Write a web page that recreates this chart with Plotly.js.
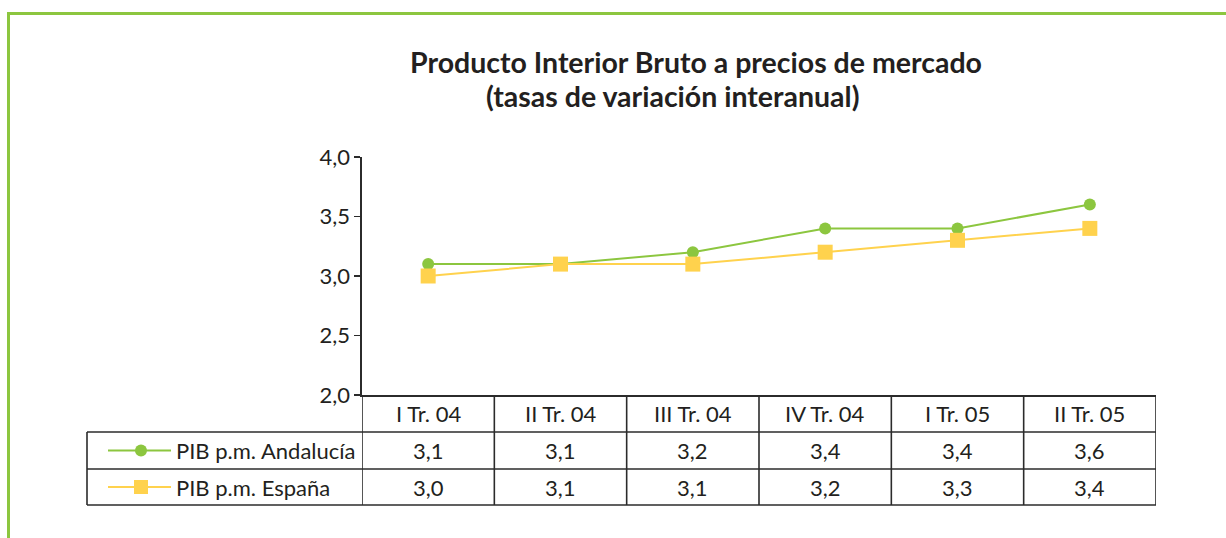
<!DOCTYPE html>
<html>
<head>
<meta charset="utf-8">
<script src="https://cdn.plot.ly/plotly-3.0.1.min.js"></script>
<style>html,body{margin:0;padding:0;background:#fff;}#chart{width:1226px;height:538px;}</style>
</head>
<body>
<div id="chart"></div>
<script>
// ---- data ----
const categories = ["I Tr. 04", "II Tr. 04", "III Tr. 04", "IV Tr. 04", "I Tr. 05", "II Tr. 05"];
const andalucia = [3.1, 3.1, 3.2, 3.4, 3.4, 3.6];
const espana = [3.0, 3.1, 3.1, 3.2, 3.3, 3.4];
const seriesNames = ["PIB p.m. Andalucía", "PIB p.m. España"];
const titleLines = ["Producto Interior Bruto a precios de mercado", "(tasas de variación interanual)"];
const yTicks = [2.0, 2.5, 3.0, 3.5, 4.0];

// ---- styling ----
const GREEN = "#8cc63f";
const YELLOW = "#ffd24d";
const INK = "#231f20";
const FONT = "Lato, 'Open Sans', sans-serif";

const W = 1226, H = 538;
const L = 362, R = 1156, T = 157, B = 395;
const pw = R - L, ph = B - T;
const px = x => (x - L) / pw;       // pixel -> paper x
const py = y => (B - y) / ph;       // pixel -> paper y

const xIdx = categories.map((c, i) => i);
const fmt = v => v.toFixed(1).replace(".", ",");

const traces = [
  {x: xIdx, y: andalucia, name: seriesNames[0], type: "scatter", mode: "lines+markers",
   line: {color: GREEN, width: 2}, marker: {symbol: "circle", size: 12, color: GREEN}, showlegend: false, cliponaxis: false},
  {x: xIdx, y: espana, name: seriesNames[1], type: "scatter", mode: "lines+markers",
   line: {color: YELLOW, width: 2}, marker: {symbol: "square", size: 15, color: YELLOW}, showlegend: false, cliponaxis: false}
];

const shapes = [];
const annotations = [];
const lineStyle = {color: "#2b2b2b", width: 1.6};
const TS = 22;

// table geometry (pixels)
const rowLines = [432, 469, 505];
const tableLeft = 87;
rowLines.forEach(y => shapes.push({type: "line", xref: "paper", yref: "paper",
  x0: px(tableLeft), x1: 1, y0: py(y), y1: py(y), line: lineStyle}));
for (let i = 0; i <= categories.length; i++) {
  shapes.push({type: "line", xref: "x", yref: "paper", x0: i - 0.5, x1: i - 0.5,
    y0: 0, y1: py(rowLines[2]), line: lineStyle});
}
shapes.push({type: "line", xref: "paper", yref: "paper", x0: px(tableLeft), x1: px(tableLeft),
  y0: py(rowLines[0]), y1: py(rowLines[2]), line: lineStyle});

// header labels
categories.forEach((c, i) => annotations.push({x: i, y: py((395 + 432) / 2), xref: "x", yref: "paper",
  text: c, showarrow: false, font: {family: FONT, size: TS, color: INK}, yanchor: "middle"}));
// values
const rowsData = [andalucia, espana];
const rowCenters = [(432 + 469) / 2, (469 + 505) / 2];
rowsData.forEach((arr, r) => arr.forEach((v, i) => annotations.push({x: i, y: py(rowCenters[r]), xref: "x", yref: "paper",
  text: fmt(v), showarrow: false, font: {family: FONT, size: TS, color: INK}, yanchor: "middle"})));
// row labels + legend symbols
const colors = [GREEN, YELLOW];
seriesNames.forEach((n, r) => {
  const yc = py(rowCenters[r]);
  annotations.push({x: px(174), y: yc, xref: "paper", yref: "paper", text: n, showarrow: false,
    xanchor: "left", yanchor: "middle", font: {family: FONT, size: TS, color: INK}});
  shapes.push({type: "line", xref: "paper", yref: "paper", x0: px(108), x1: px(171), y0: yc, y1: yc,
    line: {color: colors[r], width: 2}});
  const rad = r === 0 ? 6 : 7;
  shapes.push({type: r === 0 ? "circle" : "rect", xref: "paper", yref: "paper",
    x0: px(141 - rad), x1: px(141 + rad), y0: yc - rad / ph, y1: yc + rad / ph,
    fillcolor: colors[r], line: {width: 0}});
});

// titles
annotations.push({x: px(696), y: py(62), xref: "paper", yref: "paper", text: "<b>" + titleLines[0] + "</b>",
  showarrow: false, yanchor: "middle", font: {family: FONT, size: 28.5, color: INK}});
annotations.push({x: px(672), y: py(96), xref: "paper", yref: "paper", text: "<b>" + titleLines[1] + "</b>",
  showarrow: false, yanchor: "middle", font: {family: FONT, size: 28.5, color: INK}});

// green frame
shapes.push({type: "line", xref: "paper", yref: "paper", x0: px(8.5), x1: px(8.5), y0: py(13), y1: py(540),
  line: {color: GREEN, width: 3}});
shapes.push({type: "line", xref: "paper", yref: "paper", x0: px(7), x1: px(1230), y0: py(13.5), y1: py(13.5),
  line: {color: GREEN, width: 3}});

const layout = {
  width: W, height: H,
  margin: {l: L, r: W - R, t: T, b: H - B, pad: 0},
  paper_bgcolor: "#fff", plot_bgcolor: "#fff",
  separators: ",.",
  font: {family: FONT, color: INK, size: TS},
  xaxis: {type: "linear", range: [-0.5, categories.length - 0.5], showgrid: false, zeroline: false,
    showticklabels: false, ticks: "", showline: true, linecolor: "#2b2b2b", linewidth: 1.6, fixedrange: true},
  yaxis: {range: [2, 4], tickvals: yTicks, ticktext: yTicks.map(fmt), showgrid: false, zeroline: false,
    ticks: "outside", ticklen: 6, tickwidth: 1.5, tickcolor: "#2b2b2b", showline: true, linecolor: "#2b2b2b", linewidth: 1.6,
    tickfont: {family: FONT, size: 22, color: INK}, fixedrange: true},
  shapes: shapes,
  annotations: annotations,
  showlegend: false
};

Plotly.newPlot("chart", traces, layout, {displayModeBar: false, staticPlot: true});
</script>
</body>
</html>
